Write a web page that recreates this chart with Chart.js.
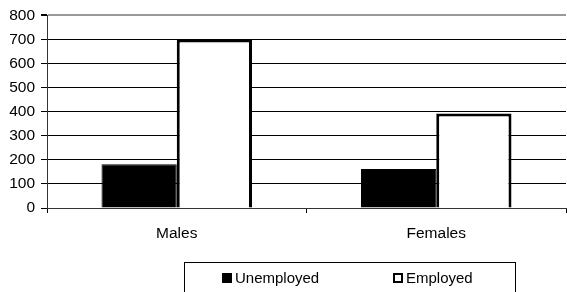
<!DOCTYPE html>
<html>
<head>
<meta charset="utf-8">
<script src="https://cdn.jsdelivr.net/npm/chart.js@4"></script>
<style>
  body { margin: 0; background: #fff; }
  #wrap { position: relative; width: 567px; height: 292px; }
  #legend {
    position: absolute; left: 184px; top: 262px; width: 332px; height: 34px;
    border: 1px solid #000; box-sizing: border-box;
    font: 15px "Liberation Sans", Arial, sans-serif; color: #000;
  }
  .item { position: absolute; top: 6px; display: flex; align-items: center; }
  .swatch { width: 10px; height: 10px; box-sizing: border-box; border: 1px solid #000; margin-right: 3px; }
</style>
</head>
<body>
<div id="wrap">
  <canvas id="chart"></canvas>
  <div id="legend"></div>
</div>
<script>
/* ---- data ---- */
const categories = ["Males", "Females"];
const unemployed = [182, 162];
const employed = [700, 392];
const seriesNames = ["Unemployed", "Employed"];
const seriesFill = ["#000000", "#ffffff"];

/* ---- chart ---- */
const canvas = document.getElementById("chart");
const axisFont = { family: "'Liberation Sans', Arial, sans-serif", size: 15.5 };

new Chart(canvas, {
  type: "bar",
  data: {
    labels: categories,
    datasets: [
      {
        label: seriesNames[0],
        data: unemployed,
        backgroundColor: seriesFill[0],
        borderColor: "#000",
        borderWidth: 1,
        barPercentage: 1.0,
        categoryPercentage: 0.58,
      },
      {
        label: seriesNames[1],
        data: employed,
        backgroundColor: seriesFill[1],
        borderColor: "#000",
        borderWidth: 3,
        barPercentage: 1.0,
        categoryPercentage: 0.58,
      },
    ],
  },
  options: {
    responsive: true,
    maintainAspectRatio: false,
    animation: false,
    layout: { padding: { top: 15, right: 1, left: 0, bottom: 0 } },
    plugins: {
      legend: { display: false },
      tooltip: { enabled: false },
    },
    scales: {
      y: {
        min: 0,
        max: 800,
        ticks: {
          stepSize: 100,
          color: "#000",
          padding: 6,
          font: axisFont,
        },
        grid: {
          color: (ctx) => (ctx.tick && ctx.tick.value === 800 ? "#999" : "#000"),
          lineWidth: (ctx) => (ctx.tick && ctx.tick.value === 800 ? 2 : 1),
          tickLength: 6,
          tickColor: "#000",
        },
        border: { color: "#333", width: 1 },
        afterFit: (scale) => { scale.width = 47; },
      },
      x: {
        ticks: {
          color: "#000",
          padding: 11,
          font: axisFont,
        },
        grid: {
          offset: true,
          drawOnChartArea: false,
          drawTicks: true,
          tickLength: 5,
          color: "#000",
        },
        border: { color: "#333", width: 1 },
        afterFit: (scale) => { scale.height = 84; },
      },
    },
  },
});

/* ---- legend ---- */
const legend = document.getElementById("legend");
const legendLeft = [37, 208];
seriesNames.forEach((name, i) => {
  const item = document.createElement("div");
  item.className = "item";
  item.style.left = legendLeft[i] + "px";
  const sw = document.createElement("span");
  sw.className = "swatch";
  sw.style.background = seriesFill[i];
  if (i === 1) sw.style.borderWidth = "2px";
  item.appendChild(sw);
  item.appendChild(document.createTextNode(name));
  legend.appendChild(item);
});
</script>
</body>
</html>
